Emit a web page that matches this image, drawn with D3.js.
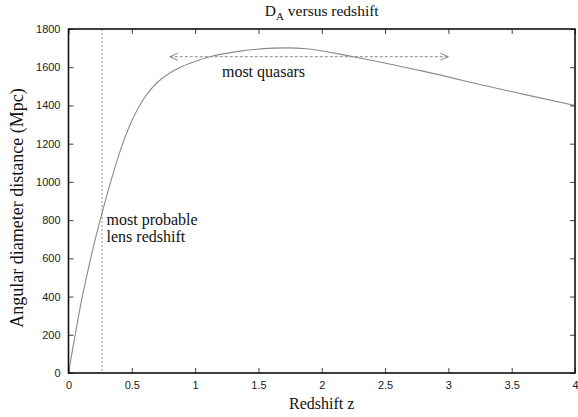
<!DOCTYPE html>
<html>
<head>
<meta charset="utf-8">
<script src="https://cdn.jsdelivr.net/npm/d3@7"></script>
<style>
  html, body { margin: 0; padding: 0; background: #fff; }
  svg { display: block; }
  .serif { font-family: "Liberation Serif", "Times New Roman", serif; fill: #111; }
</style>
</head>
<body>
<svg id="chart" width="578" height="417"></svg>
<script>
// ---- data ----
const redshift = [0, 0.05, 0.1, 0.15, 0.2, 0.26, 0.32, 0.415, 0.5, 0.6, 0.7, 0.8, 0.9, 1.0, 1.131, 1.355, 1.62, 1.88, 2.25, 2.78, 3.38, 4.0];
const distance = [0, 190, 370, 525, 670, 825, 970, 1175, 1320, 1440, 1520, 1570, 1605, 1630, 1657, 1684, 1700, 1697, 1655, 1582, 1490, 1400];
const xTicks = [0, 0.5, 1, 1.5, 2, 2.5, 3, 3.5, 4];
const yTicks = [0, 200, 400, 600, 800, 1000, 1200, 1400, 1600, 1800];
const lensZ = 0.265;
const quasarRange = [0.8, 3.0];
const quasarLevel = 1655;

(function () {
const svg = d3.select("#chart");
const mLeft = 68.5, mRight = 575, mTop = 29, mBottom = 373;
const x = d3.scaleLinear().domain([0, 4]).range([mLeft, mRight]);
const y = d3.scaleLinear().domain([0, 1800]).range([mBottom, mTop]);

const sans = "'Liberation Sans', Arial, sans-serif";

// markers
const defs = svg.append("defs");
defs.append("marker")
  .attr("id", "openArrow")
  .attr("viewBox", "-10 -5 12 10")
  .attr("refX", 0).attr("refY", 0)
  .attr("markerWidth", 12).attr("markerHeight", 10)
  .attr("markerUnits", "userSpaceOnUse")
  .attr("orient", "auto-start-reverse")
  .append("path")
  .attr("d", "M-8,-3.5 L0,0 L-8,3.5")
  .attr("fill", "none")
  .attr("stroke", "#888")
  .attr("stroke-width", 1);

// vertical dashed lens line
svg.append("line")
  .attr("x1", x(lensZ)).attr("x2", x(lensZ))
  .attr("y1", y(1800)).attr("y2", y(0))
  .attr("stroke", "#999").attr("stroke-width", 1)
  .attr("stroke-dasharray", "2,2");

// quasar arrow
svg.append("line")
  .attr("x1", x(quasarRange[0])).attr("x2", x(quasarRange[1]))
  .attr("y1", y(quasarLevel)).attr("y2", y(quasarLevel))
  .attr("stroke", "#888").attr("stroke-width", 1)
  .attr("stroke-dasharray", "3,2")
  .attr("marker-start", "url(#openArrow)")
  .attr("marker-end", "url(#openArrow)");

// curve
const pts = redshift.map((z, i) => [z, distance[i]]);
svg.append("path")
  .datum(pts)
  .attr("fill", "none")
  .attr("stroke", "#8a8a8a")
  .attr("stroke-width", 1.1)
  .attr("d", d3.line().x(d => x(d[0])).y(d => y(d[1])).curve(d3.curveCatmullRom.alpha(0.5)));

// axes
const gx = svg.append("g").attr("transform", `translate(0,${mBottom})`)
  .call(d3.axisBottom(x).tickValues(xTicks).tickSize(-5).tickPadding(8).tickFormat(d3.format("")));
const gy = svg.append("g").attr("transform", `translate(${mLeft},0)`)
  .call(d3.axisLeft(y).tickValues(yTicks).tickSize(-5).tickPadding(8).tickFormat(d3.format("d")));
const gt = svg.append("g").attr("transform", `translate(0,${mTop})`)
  .call(d3.axisTop(x).tickValues(xTicks).tickSize(-5).tickFormat(""));
const gr = svg.append("g").attr("transform", `translate(${mRight},0)`)
  .call(d3.axisRight(y).tickValues(yTicks).tickSize(-5).tickFormat(""));
[gx, gy, gt, gr].forEach(g => {
  g.select(".domain").remove();
  g.selectAll(".tick line").attr("stroke", "#444").attr("stroke-width", 1);
  g.selectAll(".tick text").attr("font-family", sans).attr("font-size", 11).attr("fill", "#222");
});

// frame
svg.append("rect")
  .attr("x", mLeft).attr("y", mTop)
  .attr("width", mRight - mLeft).attr("height", mBottom - mTop)
  .attr("fill", "none").attr("stroke", "#111").attr("stroke-width", 1.6);

// title
const title = svg.append("text").attr("class", "serif")
  .attr("x", (mLeft + mRight) / 2).attr("y", 16)
  .attr("text-anchor", "middle")
  .style("font-size", "15.5px");
title.append("tspan").text("D");
title.append("tspan").style("font-size", "11px").attr("dy", 4).text("A");
title.append("tspan").attr("dy", -4).text(" versus redshift");

// axis labels
svg.append("text").attr("class", "serif")
  .attr("x", (mLeft + mRight) / 2).attr("y", 409)
  .attr("text-anchor", "middle")
  .style("font-size", "16px")
  .text("Redshift z");
svg.append("text").attr("class", "serif")
  .attr("transform", `translate(23,208) rotate(-90)`)
  .attr("text-anchor", "middle")
  .style("font-size", "18px")
  .text("Angular diameter distance (Mpc)");

// annotations
svg.append("text").attr("class", "serif")
  .attr("x", x(1.54)).attr("y", 77)
  .attr("text-anchor", "middle")
  .style("font-size", "16px")
  .text("most quasars");
const lens = svg.append("text").attr("class", "serif")
  .style("font-size", "16px");
lens.append("tspan").attr("x", x(lensZ) + 4.5).attr("y", 225).text("most probable");
lens.append("tspan").attr("x", x(lensZ) + 4.5).attr("y", 242).text("lens redshift");
})();
</script>
</body>
</html>
